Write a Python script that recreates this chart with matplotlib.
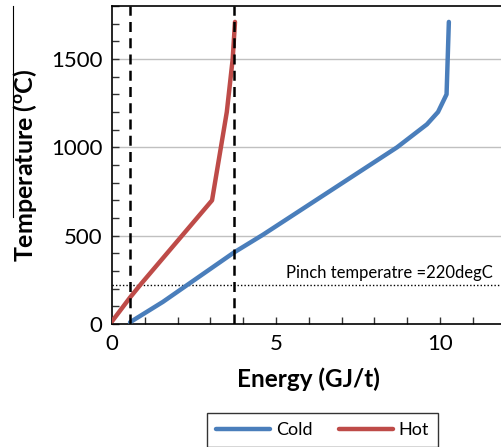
import matplotlib
matplotlib.use('Agg')
import matplotlib.pyplot as plt
from matplotlib.ticker import MultipleLocator
from matplotlib.lines import Line2D

# Composite curves
cold_energy = [0.55, 1.55, 3.72, 4.6, 8.69, 9.6, 9.94, 10.2, 10.27]
cold_temp = [10, 125, 405, 505, 1000, 1130, 1200, 1300, 1710]

hot_energy = [0.0, 0.55, 0.9, 3.05, 3.5, 3.68, 3.75]
hot_temp = [15, 150, 230, 700, 1200, 1500, 1710]

# Vertical limits and pinch
min_energy_lines = [0.55, 3.72]
pinch_temp = 220
pinch_label = 'Pinch temperatre =220degC'

plt.rcParams['font.family'] = ['Lato', 'DejaVu Sans']
plt.rcParams['mathtext.fontset'] = 'custom'
plt.rcParams['mathtext.rm'] = 'Lato:bold'

fig = plt.figure(figsize=(5.02, 4.47), dpi=100)
ax = fig.add_axes([112 / 502, 123 / 447, 393.6 / 502, 318 / 447])

for y in [500, 1000, 1500]:
    ax.axhline(y, color='#c0c0c0', lw=1.0, zorder=0)

ax.plot(cold_energy, cold_temp, color='#4a7ebb', lw=3.2, solid_capstyle='round', label='Cold', zorder=3)
ax.plot(hot_energy, hot_temp, color='#be4b48', lw=3.2, solid_capstyle='round', label='Hot', zorder=3)

for xv in min_energy_lines:
    ax.axvline(xv, color='black', lw=1.8, dashes=(4, 2.5), zorder=4)
ax.axhline(pinch_temp, color='black', lw=1.0, ls=(0, (1, 1.5)), zorder=2)
ax.text(11.6, pinch_temp + 25, pinch_label, ha='right', va='bottom', fontsize=12)

ax.set_xlim(0, 12)
ax.set_ylim(0, 1800)
ax.xaxis.set_major_locator(MultipleLocator(5))
ax.xaxis.set_minor_locator(MultipleLocator(1))
ax.yaxis.set_major_locator(MultipleLocator(500))
ax.yaxis.set_minor_locator(MultipleLocator(100))
ax.tick_params(which='both', direction='in', length=5, width=1, color='#333333')
ax.tick_params(labelsize=16, pad=7)
ax.spines['right'].set_visible(False)
for s in ['left', 'bottom', 'top']:
    ax.spines[s].set_linewidth(1.2)

ax.set_xlabel('Energy (GJ/t)', fontsize=17.5, fontweight='bold', labelpad=10)
fig.text(25 / 502, 1 - 165 / 447, r'Temperature ($^{\mathrm{o}}$C)', rotation=90,
         fontsize=18, fontweight='bold', ha='center', va='center')
fig.add_artist(Line2D([13 / 502, 13 / 502], [1 - 6 / 447, 1 - 217 / 447], color='black', lw=0.8))

leg = fig.legend(loc='upper left', bbox_to_anchor=(198 / 502, 1 - 404 / 447), ncol=2,
                 fontsize=13, frameon=True, fancybox=False, edgecolor='black',
                 handlelength=3.0, handletextpad=0.3, columnspacing=1.5, borderpad=0.5)
leg.get_frame().set_linewidth(1.0)

fig.savefig('out.png', dpi=100)
